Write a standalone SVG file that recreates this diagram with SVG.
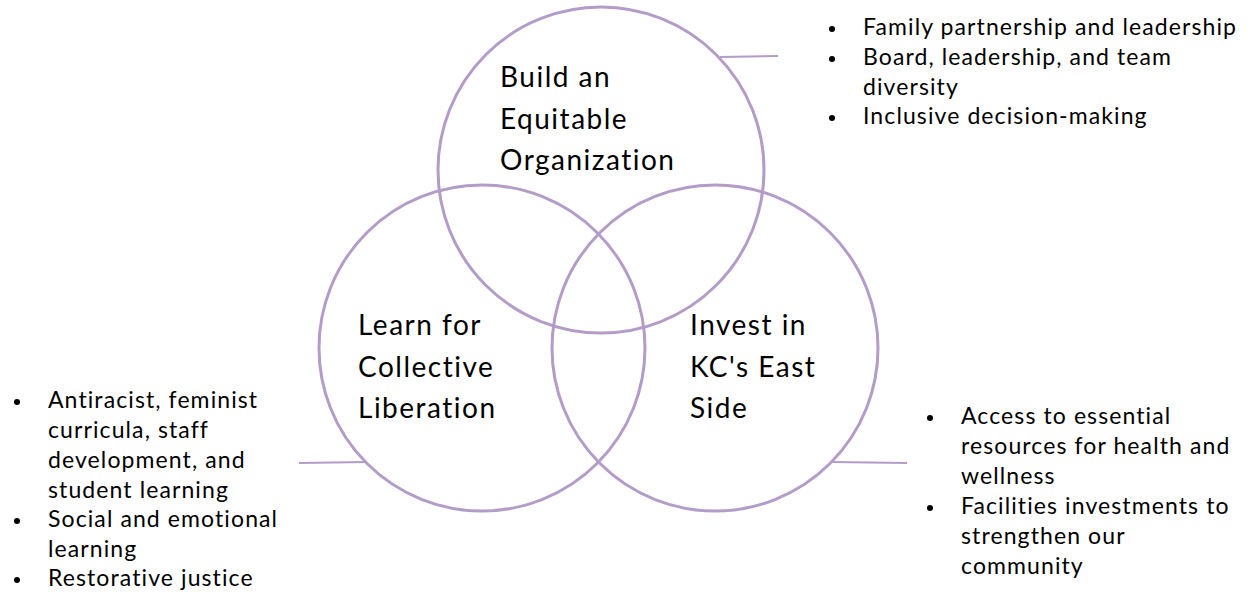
<svg xmlns="http://www.w3.org/2000/svg" width="1254" height="594" viewBox="0 0 1254 594">
<style>
.ring{fill:none;stroke:#b49cc8;stroke-width:3}
.conn{fill:none;stroke:#b49cc8;stroke-width:2}
.t{font-family:Lato,"Liberation Sans",sans-serif;fill:#000}
.h{font-size:28px;letter-spacing:1.5px}
.b{font-size:23px;letter-spacing:1.1px}
.dot{fill:#000}
</style>
<rect width="1254" height="594" fill="#fff"/>
<g id="connectors">
<line class="conn" x1="720" y1="57" x2="778" y2="56"/>
<line class="conn" x1="299" y1="463" x2="367" y2="462"/>
<line class="conn" x1="832" y1="462" x2="907" y2="463"/>
</g>
<g id="node-build">
<circle class="ring" cx="601" cy="170" r="163"/>
<text class="t h" x="500" y="87">Build an</text>
<text class="t h" x="500" y="129">Equitable</text>
<text class="t h" x="500" y="170">Organization</text>
</g>
<g id="node-learn">
<circle class="ring" cx="482" cy="348" r="163"/>
<text class="t h" x="358" y="335">Learn for</text>
<text class="t h" x="358" y="377">Collective</text>
<text class="t h" x="358" y="418">Liberation</text>
</g>
<g id="node-invest">
<circle class="ring" cx="715" cy="348" r="163"/>
<text class="t h" x="690" y="335">Invest in</text>
<text class="t h" x="690" y="377">KC's East</text>
<text class="t h" x="690" y="418">Side</text>
</g>
<g id="list-build">
<circle class="dot" cx="832" cy="29" r="3"/>
<circle class="dot" cx="832" cy="59" r="3"/>
<circle class="dot" cx="832" cy="118" r="3"/>
<text class="t b" x="863" y="35">Family partnership and leadership</text>
<text class="t b" x="863" y="65">Board, leadership, and team</text>
<text class="t b" x="863" y="95">diversity</text>
<text class="t b" x="863" y="124">Inclusive decision-making</text>
</g>
<g id="list-learn">
<circle class="dot" cx="17" cy="402" r="3"/>
<circle class="dot" cx="17" cy="521" r="3"/>
<circle class="dot" cx="17" cy="580" r="3"/>
<text class="t b" x="48" y="408">Antiracist, feminist</text>
<text class="t b" x="48" y="438">curricula, staff</text>
<text class="t b" x="48" y="468">development, and</text>
<text class="t b" x="48" y="498">student learning</text>
<text class="t b" x="48" y="527">Social and emotional</text>
<text class="t b" x="48" y="557">learning</text>
<text class="t b" x="48" y="586">Restorative justice</text>
</g>
<g id="list-invest">
<circle class="dot" cx="930" cy="418" r="3"/>
<circle class="dot" cx="930" cy="508" r="3"/>
<text class="t b" x="961" y="424">Access to essential</text>
<text class="t b" x="961" y="454">resources for health and</text>
<text class="t b" x="961" y="484">wellness</text>
<text class="t b" x="961" y="514">Facilities investments to</text>
<text class="t b" x="961" y="544">strengthen our</text>
<text class="t b" x="961" y="574">community</text>
</g>
</svg>
